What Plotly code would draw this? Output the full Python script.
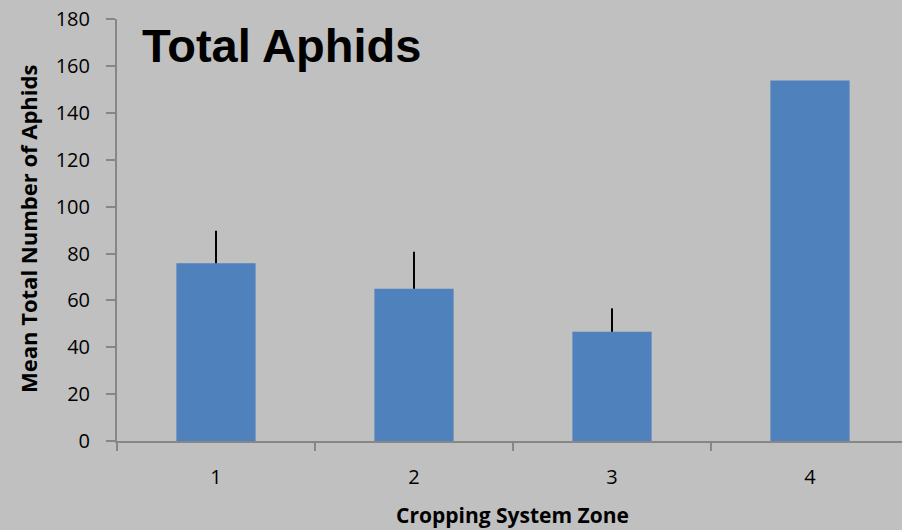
import plotly.graph_objects as go

categories = ["1", "2", "3", "4"]
means = [75.8, 65.0, 46.6, 153.8]
err_up = [13.9, 15.7, 10.0, 0.0]
y_ticks = [0, 20, 40, 60, 80, 100, 120, 140, 160, 180]

BG = "#c0c0c0"
AX = "#868686"
TICKFONT = dict(family="Open Sans", size=20, color="#000000")

fig = go.Figure()
fig.add_trace(go.Bar(
    x=categories, y=means, width=0.4,
    marker=dict(color="#4f81bd", line=dict(width=0)),
    error_y=dict(type="data", array=err_up, arrayminus=[0] * 4, symmetric=False,
                 color="#000000", thickness=2, width=0),
    hoverinfo="skip",
))

fig.update_layout(
    width=902, height=530,
    paper_bgcolor=BG, plot_bgcolor=BG,
    margin=dict(l=117, r=0, t=19, b=89),
    showlegend=False,
    xaxis=dict(type="category", range=[-0.5, 3.4646], showline=True, linecolor=AX,
               linewidth=2, ticks="outside", tickson="boundaries", ticklen=8,
               tickcolor=AX, tickwidth=2, tickfont=TICKFONT, showgrid=False,
               ticklabelstandoff=17, zeroline=False),
    yaxis=dict(range=[0, 180.05], tickmode="array", tickvals=y_ticks,
               ticktext=[str(v) for v in y_ticks],
               showline=True, linecolor=AX, linewidth=2,
               ticks="outside", ticklen=9, tickcolor=AX, tickwidth=2,
               tickfont=TICKFONT, showgrid=False, zeroline=False,
               ticklabelstandoff=12, automargin=False, ticklabeloverflow="allow"),
    annotations=[
        dict(text="<b>Total Aphids</b>", xref="paper", yref="paper",
             x=(140 - 117) / 785, y=(441 - 64) / 422, xanchor="left", yanchor="bottom",
             yshift=-10, showarrow=False,
             font=dict(family="Liberation Sans", size=47, color="#000000")),
        dict(text="<b>Mean Total Number of Aphids</b>", xref="paper", yref="paper",
             x=(28 - 117) / 785, y=(441 - 229) / 422, xanchor="center", yanchor="middle",
             textangle=-90, showarrow=False,
             font=dict(family="Open Sans", size=22, color="#000000")),
        dict(text="<b>Cropping System Zone</b>", xref="paper", yref="paper",
             x=(512 - 117) / 785, y=-(515 - 441) / 422, xanchor="center", yanchor="middle",
             showarrow=False,
             font=dict(family="Open Sans", size=21, color="#000000")),
    ],
)

fig.write_html(
    "out.html",
    config={"displayModeBar": False},
    post_script="document.body.style.margin='0';document.body.style.overflow='hidden';",
)
